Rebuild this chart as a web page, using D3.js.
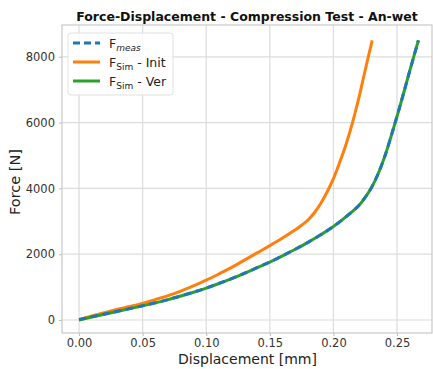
<!DOCTYPE html>
<html>
<head>
<meta charset="utf-8">
<script src="https://cdn.jsdelivr.net/npm/d3@7"></script>
<style>
  body { margin: 0; background: #fff; }
  svg { font-family: "DejaVu Sans", sans-serif; display: block; }
</style>
</head>
<body>
<svg id="chart"></svg>
<script>
// Data
const dispInit = [0, 0.01, 0.02, 0.03, 0.04, 0.05, 0.06, 0.07, 0.08, 0.09, 0.10, 0.11, 0.12, 0.13, 0.14, 0.15,
  0.16, 0.17, 0.175, 0.18, 0.185, 0.19, 0.195, 0.2, 0.205, 0.21, 0.215, 0.22, 0.225, 0.2305];
const forceInit = [0, 120, 222, 320, 410, 507, 620, 740, 880, 1040, 1210, 1400, 1600, 1820, 2040, 2260,
  2490, 2740, 2880, 3040, 3260, 3540, 3890, 4300, 4800, 5350, 6000, 6750, 7600, 8500];

const dispVer = [0, 0.01, 0.02, 0.03, 0.04, 0.05, 0.06, 0.07, 0.08, 0.09, 0.10, 0.11, 0.12, 0.13, 0.14, 0.15,
  0.16, 0.17, 0.18, 0.19, 0.2, 0.21, 0.22, 0.225, 0.23, 0.235, 0.24, 0.245, 0.25, 0.255, 0.26, 0.2668];
const forceVer = [0, 90, 175, 260, 345, 430, 520, 620, 730, 845, 970, 1110, 1260, 1420, 1590, 1760,
  1950, 2150, 2360, 2590, 2840, 3140, 3480, 3730, 4030, 4430, 4930, 5540, 6190, 6870, 7570, 8500];

// measured curve is nearly identical to the verified simulation
const dispMeas = dispVer;
const forceMeas = [20, 100, 182, 265, 348, 432, 522, 621, 731, 846, 971, 1111, 1261, 1421, 1591, 1761,
  1951, 2151, 2361, 2591, 2841, 3141, 3481, 3731, 4031, 4431, 4931, 5541, 6191, 6871, 7571, 8500];

const xTicks = [0, 0.05, 0.10, 0.15, 0.20, 0.25];
const yTicks = [0, 2000, 4000, 6000, 8000];

const width = 433, height = 369;
const margin = { left: 62, top: 25, right: 1, bottom: 36 };

const svg = d3.select("#chart").attr("width", width).attr("height", height);

const x = d3.scaleLinear().domain([-0.0134, 0.2775]).range([margin.left, width - margin.right]);
const y = d3.scaleLinear().domain([-395, 8967]).range([height - margin.bottom, margin.top]);

// grid
svg.append("g").selectAll("line").data(xTicks).join("line")
  .attr("x1", d => x(d)).attr("x2", d => x(d))
  .attr("y1", margin.top).attr("y2", height - margin.bottom)
  .attr("stroke", "#dcdcdc").attr("stroke-width", 1.2);
svg.append("g").selectAll("line").data(yTicks).join("line")
  .attr("y1", d => y(d)).attr("y2", d => y(d))
  .attr("x1", margin.left).attr("x2", width - margin.right)
  .attr("stroke", "#dcdcdc").attr("stroke-width", 1.2);

// axes
const xAxis = svg.append("g")
  .attr("transform", `translate(0,${height - margin.bottom})`)
  .call(d3.axisBottom(x).tickValues(xTicks).tickFormat(d3.format(".2f")).tickSize(3).tickPadding(3));
const yAxis = svg.append("g")
  .attr("transform", `translate(${margin.left},0)`)
  .call(d3.axisLeft(y).tickValues(yTicks).tickFormat(d3.format("d")).tickSize(3).tickPadding(4));
[xAxis, yAxis].forEach(a => {
  a.select(".domain").remove();
  a.selectAll(".tick line").attr("stroke", "#bbbbbb");
  a.selectAll(".tick text").attr("fill", "#333").style("font-size", "11.5px")
    .style("font-family", "DejaVu Sans, sans-serif");
});

// frame
svg.append("rect")
  .attr("x", margin.left).attr("y", margin.top)
  .attr("width", width - margin.right - margin.left)
  .attr("height", height - margin.bottom - margin.top)
  .attr("fill", "none").attr("stroke", "#c8c8c8").attr("stroke-width", 1.2);

// lines
const line = d3.line().x(d => x(d[0])).y(d => y(d[1])).curve(d3.curveCatmullRom.alpha(0.5));
const zip = (a, b) => a.map((v, i) => [v, b[i]]);

svg.append("path").datum(zip(dispInit, forceInit)).attr("d", line)
  .attr("fill", "none").attr("stroke", "#ff7f0e").attr("stroke-width", 3);
svg.append("path").datum(zip(dispVer, forceVer)).attr("d", line)
  .attr("fill", "none").attr("stroke", "#2ca02c").attr("stroke-width", 3);
svg.append("path").datum(zip(dispMeas, forceMeas)).attr("d", line)
  .attr("fill", "none").attr("stroke", "#1f77b4").attr("stroke-width", 3)
  .attr("stroke-dasharray", "7,5");

// title and axis labels
svg.append("text").attr("x", (margin.left + width - margin.right) / 2).attr("y", 21)
  .attr("text-anchor", "middle").attr("font-weight", "bold").attr("font-size", "12.5px")
  .attr("fill", "#111").text("Force-Displacement - Compression Test - An-wet");
svg.append("text").attr("x", (margin.left + width) / 2).attr("y", 364)
  .attr("text-anchor", "middle").attr("font-size", "14px").attr("fill", "#222")
  .text("Displacement [mm]");
svg.append("text").attr("transform", "translate(20,182) rotate(-90)")
  .attr("text-anchor", "middle").attr("font-size", "14.5px").attr("fill", "#222")
  .text("Force [N]");

// legend
const legendItems = [
  { main: "F", sub: "meas", rest: "", color: "#1f77b4", dash: "7,4", italic: true },
  { main: "F", sub: "Sim", rest: " - Init", color: "#ff7f0e", dash: null, italic: false },
  { main: "F", sub: "Sim", rest: " - Ver", color: "#2ca02c", dash: null, italic: false }
];
const lg = svg.append("g");
lg.append("rect").attr("x", 68).attr("y", 33).attr("width", 105).attr("height", 62).attr("rx", 3)
  .attr("fill", "#fff").attr("fill-opacity", 0.85).attr("stroke", "#e0e0e0");
legendItems.forEach((it, i) => {
  const ly = 43 + i * 19;
  lg.append("line").attr("x1", 73).attr("x2", 100).attr("y1", ly).attr("y2", ly)
    .attr("stroke", it.color).attr("stroke-width", 3).attr("stroke-dasharray", it.dash);
  const t = lg.append("text").attr("x", 109).attr("y", ly + 4.5).attr("font-size", "12.5px").attr("fill", "#222");
  t.append("tspan").text(it.main);
  t.append("tspan").attr("font-size", "9px").attr("dy", 3).attr("font-style", it.italic ? "italic" : null).text(it.sub);
  if (it.rest) t.append("tspan").attr("dy", -3).text(it.rest);
});
</script>
</body>
</html>
